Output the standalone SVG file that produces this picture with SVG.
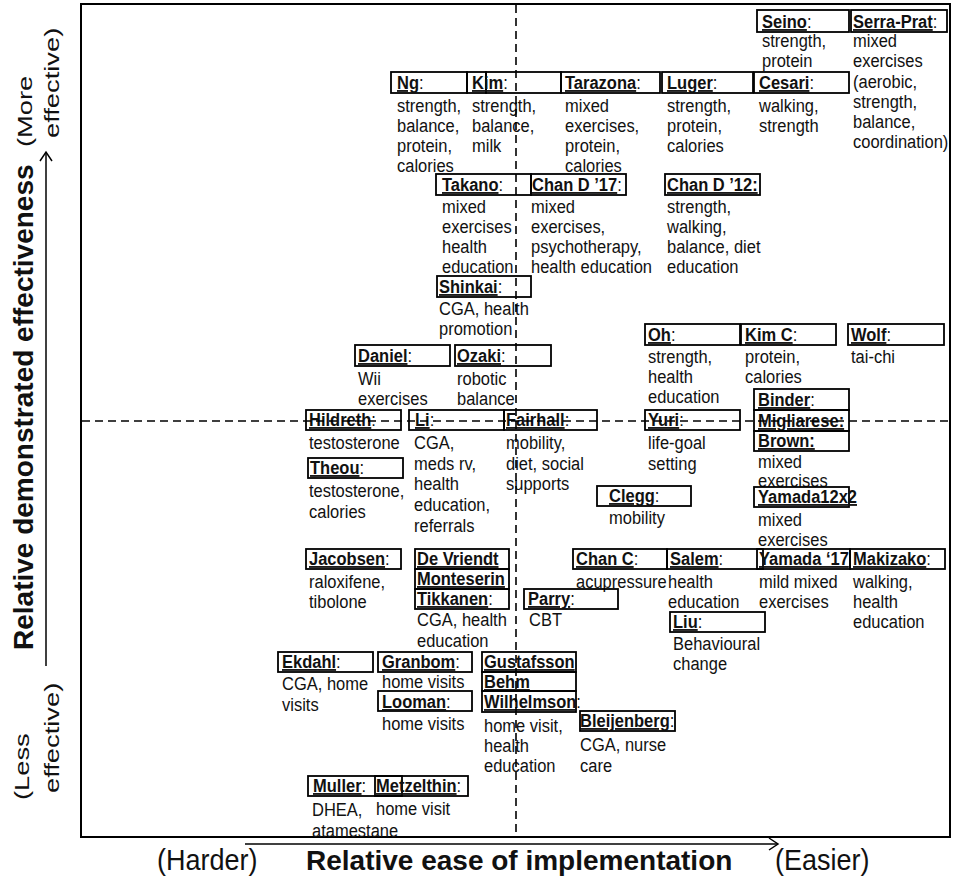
<svg xmlns="http://www.w3.org/2000/svg" width="954" height="881" viewBox="0 0 954 881">
<style>
text{font-family:"Liberation Sans",Arial,sans-serif;fill:#111}
.nm{font-size:16.5px}
.d{font-size:16.5px}
.b{font-weight:bold;text-decoration:underline}
.bx{fill:none;stroke:#000;stroke-width:1.8}
.ax{font-size:27px}
.axv{font-size:19.5px}
.axb{font-size:28px;font-weight:bold}
.dash{fill:none;stroke:#000;stroke-width:1.6;stroke-dasharray:8 5}
.ln{fill:none;stroke:#000;stroke-width:1.5}
</style>
<rect x="81" y="4" width="869" height="833" fill="#fff" stroke="#000" stroke-width="2"/>

<g id="n-seino"><rect class="bx" x="757" y="10" width="92" height="22"/><text class="nm" transform="translate(762,28) scale(1,1.1)"><tspan class="b">Seino</tspan>:</text><text class="d" transform="translate(762,47) scale(1,1.1)">strength,<tspan x="0" dy="18.45">protein</tspan></text></g>
<g id="n-serraprat"><rect class="bx" x="851" y="10" width="96" height="22"/><text class="nm" transform="translate(853,28) scale(1,1.1)"><tspan class="b">Serra-Prat</tspan>:</text><text class="d" transform="translate(853,47) scale(1,1.1)">mixed<tspan x="0" dy="18.45">exercises</tspan><tspan x="0" dy="18.45">(aerobic,</tspan><tspan x="0" dy="18.45">strength,</tspan><tspan x="0" dy="18.45">balance,</tspan><tspan x="0" dy="18.45">coordination)</tspan></text></g>
<g id="n-ng"><rect class="bx" x="391" y="72" width="76" height="21"/><text class="nm" transform="translate(397,89) scale(1,1.1)"><tspan class="b">Ng</tspan>:</text><text class="d" transform="translate(397,111.5) scale(1,1.1)">strength,<tspan x="0" dy="18.2">balance,</tspan><tspan x="0" dy="18.2">protein,</tspan><tspan x="0" dy="18.2">calories</tspan></text></g>
<g id="n-kim"><rect class="bx" x="467" y="72" width="19" height="21"/><rect class="bx" x="486" y="72" width="75" height="21"/><text class="nm" transform="translate(472,89) scale(1,1.1)"><tspan class="b">Kim</tspan>:</text><text class="d" transform="translate(472,111.5) scale(1,1.1)">strength,<tspan x="0" dy="18.2">balance,</tspan><tspan x="0" dy="18.2">milk</tspan></text></g>
<g id="n-tarazona"><rect class="bx" x="561" y="72" width="99" height="21"/><text class="nm" transform="translate(565,89) scale(1,1.1)"><tspan class="b">Tarazona</tspan>:</text><text class="d" transform="translate(565,111.5) scale(1,1.1)">mixed<tspan x="0" dy="18.2">exercises,</tspan><tspan x="0" dy="18.2">protein,</tspan><tspan x="0" dy="18.2">calories</tspan></text></g>
<g id="n-luger"><rect class="bx" x="662" y="72" width="91" height="21"/><text class="nm" transform="translate(667,89) scale(1,1.1)"><tspan class="b">Luger</tspan>:</text><text class="d" transform="translate(667,111.5) scale(1,1.1)">strength,<tspan x="0" dy="18.2">protein,</tspan><tspan x="0" dy="18.2">calories</tspan></text></g>
<g id="n-cesari"><rect class="bx" x="754" y="72" width="95" height="21"/><text class="nm" transform="translate(759,89) scale(1,1.1)"><tspan class="b">Cesari</tspan>:</text><text class="d" transform="translate(759,111.5) scale(1,1.1)">walking,<tspan x="0" dy="18.2">strength</tspan></text></g>
<g id="n-takano"><rect class="bx" x="436" y="174" width="95" height="21"/><text class="nm" transform="translate(442,191) scale(1,1.1)"><tspan class="b">Takano</tspan>:</text><text class="d" transform="translate(442,212.5) scale(1,1.1)">mixed<tspan x="0" dy="18.36">exercises</tspan><tspan x="0" dy="18.36">health</tspan><tspan x="0" dy="18.36">education</tspan></text></g>
<g id="n-chand17"><rect class="bx" x="531" y="174" width="95" height="21"/><text class="nm" transform="translate(532,191) scale(1,1.1)"><tspan class="b">Chan D ’17</tspan>:</text><text class="d" transform="translate(531,212.5) scale(1,1.1)">mixed<tspan x="0" dy="18.36">exercises,</tspan><tspan x="0" dy="18.36">psychotherapy,</tspan><tspan x="0" dy="18.36">health education</tspan></text></g>
<g id="n-chand12"><rect class="bx" x="665" y="174" width="95" height="21"/><text class="nm" transform="translate(667,191) scale(1,1.1)"><tspan class="b">Chan D ’12:</tspan></text><text class="d" transform="translate(667,212.5) scale(1,1.1)">strength,<tspan x="0" dy="18.36">walking,</tspan><tspan x="0" dy="18.36">balance, diet</tspan><tspan x="0" dy="18.36">education</tspan></text></g>
<g id="n-shinkai"><rect class="bx" x="437" y="276" width="94" height="21"/><text class="nm" transform="translate(439,293) scale(1,1.1)"><tspan class="b">Shinkai</tspan>:</text><text class="d" transform="translate(439,315) scale(1,1.1)">CGA, health<tspan x="0" dy="18.36">promotion</tspan></text></g>
<g id="n-oh"><rect class="bx" x="645" y="324" width="95" height="21"/><text class="nm" transform="translate(648,341) scale(1,1.1)"><tspan class="b">Oh</tspan>:</text><text class="d" transform="translate(648,363) scale(1,1.1)">strength,<tspan x="0" dy="18.36">health</tspan><tspan x="0" dy="18.36">education</tspan></text></g>
<g id="n-kimc"><rect class="bx" x="741" y="324" width="95" height="21"/><text class="nm" transform="translate(745,341) scale(1,1.1)"><tspan class="b">Kim C</tspan>:</text><text class="d" transform="translate(745,363) scale(1,1.1)">protein,<tspan x="0" dy="18.36">calories</tspan></text></g>
<g id="n-wolf"><rect class="bx" x="848" y="324" width="96" height="21"/><text class="nm" transform="translate(851,341) scale(1,1.1)"><tspan class="b">Wolf</tspan>:</text><text class="d" transform="translate(851,363) scale(1,1.1)">tai-chi</text></g>
<g id="n-daniel"><rect class="bx" x="355" y="345" width="95" height="21"/><text class="nm" transform="translate(358,362) scale(1,1.1)"><tspan class="b">Daniel</tspan>:</text><text class="d" transform="translate(358,385) scale(1,1.1)">Wii<tspan x="0" dy="18.2">exercises</tspan></text></g>
<g id="n-ozaki"><rect class="bx" x="455" y="345" width="96" height="21"/><text class="nm" transform="translate(457,362) scale(1,1.1)"><tspan class="b">Ozaki</tspan>:</text><text class="d" transform="translate(457,385) scale(1,1.1)">robotic<tspan x="0" dy="18.2">balance</tspan></text></g>
<g id="n-binder"><rect class="bx" x="754" y="389" width="95" height="21"/><text class="nm" transform="translate(758,406) scale(1,1.1)"><tspan class="b">Binder</tspan>:</text></g>
<g id="n-migliarese"><rect class="bx" x="754" y="410" width="95" height="21"/><text class="nm" transform="translate(758,427) scale(1,1.1)"><tspan class="b">Migliarese:</tspan></text></g>
<g id="n-brown"><rect class="bx" x="754" y="431" width="95" height="20"/><text class="nm" transform="translate(758,447) scale(1,1.1)"><tspan class="b">Brown:</tspan></text><text class="d" transform="translate(758,468) scale(1,1.1)">mixed<tspan x="0" dy="17.2">exercises</tspan></text></g>
<g id="n-hildreth"><rect class="bx" x="306" y="410" width="95" height="20"/><text class="nm" transform="translate(309,426) scale(1,1.1)"><tspan class="b">Hildreth</tspan>:</text><text class="d" transform="translate(309,449) scale(1,1.1)">testosterone</text></g>
<g id="n-li"><rect class="bx" x="409" y="410" width="95" height="20"/><text class="nm" transform="translate(415,426) scale(1,1.1)"><tspan class="b">Li</tspan>:</text><text class="d" transform="translate(414,449) scale(1,1.1)">CGA,<tspan x="0" dy="18.8">meds rv,</tspan><tspan x="0" dy="18.8">health</tspan><tspan x="0" dy="18.8">education,</tspan><tspan x="0" dy="18.8">referrals</tspan></text></g>
<g id="n-fairhall"><rect class="bx" x="504" y="410" width="93" height="20"/><text class="nm" transform="translate(506,426) scale(1,1.1)"><tspan class="b">Fairhall</tspan>:</text><text class="d" transform="translate(506,449) scale(1,1.1)">mobility,<tspan x="0" dy="18.8">diet, social</tspan><tspan x="0" dy="18.8">supports</tspan></text></g>
<g id="n-yuri"><rect class="bx" x="645" y="410" width="95" height="20"/><text class="nm" transform="translate(648,426) scale(1,1.1)"><tspan class="b">Yuri</tspan>:</text><text class="d" transform="translate(648,449) scale(1,1.1)">life-goal<tspan x="0" dy="18.8">setting</tspan></text></g>
<g id="n-theou"><rect class="bx" x="308" y="458" width="95" height="20"/><text class="nm" transform="translate(310,474) scale(1,1.1)"><tspan class="b">Theou</tspan>:</text><text class="d" transform="translate(309,497) scale(1,1.1)">testosterone,<tspan x="0" dy="18.8">calories</tspan></text></g>
<g id="n-clegg"><rect class="bx" x="597" y="486" width="94" height="20"/><text class="nm" transform="translate(609,502) scale(1,1.1)"><tspan class="b">Clegg</tspan>:</text><text class="d" transform="translate(609,524) scale(1,1.1)">mobility</text></g>
<g id="n-yamada12x2"><rect class="bx" x="754" y="487" width="95" height="20"/><text class="nm" transform="translate(758,503) scale(1,1.1)"><tspan class="b">Yamada12x2</tspan></text><text class="d" transform="translate(758,525.5) scale(1,1.1)">mixed<tspan x="0" dy="18.2">exercises</tspan></text></g>
<g id="n-jacobsen"><rect class="bx" x="306" y="549" width="95" height="20"/><text class="nm" transform="translate(309,565) scale(1,1.1)"><tspan class="b">Jacobsen</tspan>:</text><text class="d" transform="translate(309,588) scale(1,1.1)">raloxifene,<tspan x="0" dy="18.45">tibolone</tspan></text></g>
<g id="n-devriendt"><rect class="bx" x="415" y="549" width="94" height="20"/><text class="nm" transform="translate(417,565) scale(1,1.1)"><tspan class="b">De Vriendt</tspan></text></g>
<g id="n-monteserin"><rect class="bx" x="415" y="569" width="94" height="20"/><text class="nm" transform="translate(417,585) scale(1,1.1)"><tspan class="b">Monteserin</tspan></text></g>
<g id="n-tikkanen"><rect class="bx" x="415" y="589" width="94" height="20"/><text class="nm" transform="translate(417,605) scale(1,1.1)"><tspan class="b">Tikkanen</tspan>:</text><text class="d" transform="translate(417,626) scale(1,1.1)">CGA, health<tspan x="0" dy="19.1">education</tspan></text></g>
<g id="n-chanc"><rect class="bx" x="573" y="549" width="94" height="20"/><text class="nm" transform="translate(576,565) scale(1,1.1)"><tspan class="b">Chan C</tspan>:</text><text class="d" transform="translate(576,588) scale(1,1.1)">acupressure</text></g>
<g id="n-salem"><rect class="bx" x="667" y="549" width="96" height="20"/><text class="nm" transform="translate(670,565) scale(1,1.1)"><tspan class="b">Salem</tspan>:</text><text class="d" transform="translate(668,588) scale(1,1.1)">health<tspan x="0" dy="18.2">education</tspan></text></g>
<g id="n-yamada17"><rect class="bx" x="757" y="549" width="93" height="20"/><text class="nm" transform="translate(759,565) scale(1,1.1)"><tspan class="b">Yamada ‘17</tspan></text><text class="d" transform="translate(759,588) scale(1,1.1)">mild mixed<tspan x="0" dy="18.2">exercises</tspan></text></g>
<g id="n-makizako"><rect class="bx" x="850" y="549" width="95" height="20"/><text class="nm" transform="translate(853,565) scale(1,1.1)"><tspan class="b">Makizako</tspan>:</text><text class="d" transform="translate(853,588) scale(1,1.1)">walking,<tspan x="0" dy="18.2">health</tspan><tspan x="0" dy="18.2">education</tspan></text></g>
<g id="n-parry"><rect class="bx" x="524" y="589" width="94" height="20"/><text class="nm" transform="translate(528,605) scale(1,1.1)"><tspan class="b">Parry</tspan>:</text><text class="d" transform="translate(529,626) scale(1,1.1)">CBT</text></g>
<g id="n-liu"><rect class="bx" x="670" y="612" width="95" height="20"/><text class="nm" transform="translate(673,628) scale(1,1.1)"><tspan class="b">Liu</tspan>:</text><text class="d" transform="translate(673,650) scale(1,1.1)">Behavioural<tspan x="0" dy="18.45">change</tspan></text></g>
<g id="n-ekdahl"><rect class="bx" x="278" y="652" width="95" height="20"/><text class="nm" transform="translate(282,668) scale(1,1.1)"><tspan class="b">Ekdahl</tspan>:</text><text class="d" transform="translate(282,690) scale(1,1.1)">CGA, home<tspan x="0" dy="19.1">visits</tspan></text></g>
<g id="n-granbom"><rect class="bx" x="378" y="652" width="94" height="20"/><text class="nm" transform="translate(382,668) scale(1,1.1)"><tspan class="b">Granbom</tspan>:</text><text class="d" transform="translate(382,688) scale(1,1.1)">home visits</text></g>
<g id="n-looman"><rect class="bx" x="378" y="691" width="94" height="20"/><text class="nm" transform="translate(382,708) scale(1,1.1)"><tspan class="b">Looman</tspan>:</text><text class="d" transform="translate(382,730) scale(1,1.1)">home visits</text></g>
<g id="n-gustafsson"><rect class="bx" x="482" y="652" width="94" height="20"/><text class="nm" transform="translate(484,668) scale(1,1.1)"><tspan class="b">Gustafsson</tspan></text></g>
<g id="n-behm"><rect class="bx" x="482" y="672" width="94" height="19"/><text class="nm" transform="translate(484,688) scale(1,1.1)"><tspan class="b">Behm</tspan></text></g>
<g id="n-wilhelmson"><rect class="bx" x="482" y="691" width="94" height="21"/><text class="nm" transform="translate(484,708) scale(1,1.1)"><tspan class="b">Wilhelmson</tspan>:</text><text class="d" transform="translate(484,732) scale(1,1.1)">home visit,<tspan x="0" dy="18.2">health</tspan><tspan x="0" dy="18.2">education</tspan></text></g>
<g id="n-bleijenberg"><rect class="bx" x="580" y="711" width="95" height="20"/><text class="nm" transform="translate(580,727) scale(1,1.1)"><tspan class="b">Bleijenberg</tspan>:</text><text class="d" transform="translate(580,751) scale(1,1.1)">CGA, nurse<tspan x="0" dy="19.1">care</tspan></text></g>
<g id="n-muller"><rect class="bx" x="308" y="776" width="94" height="20"/><text class="nm" transform="translate(313,792) scale(1,1.1)"><tspan class="b">Muller</tspan>:</text><text class="d" transform="translate(312,816) scale(1,1.1)">DHEA,<tspan x="0" dy="19.1">atamestane</tspan></text></g>
<g id="n-metzelthin"><rect class="bx" x="375" y="776" width="93" height="20"/><text class="nm" transform="translate(376,792) scale(1,1.1)"><tspan class="b">Metzelthin</tspan>:</text><text class="d" transform="translate(376,815) scale(1,1.1)">home visit</text></g>

<g id="connectors">
<line class="dash" x1="516" y1="5" x2="516" y2="836"/>
<line class="dash" x1="82" y1="421" x2="949" y2="421"/>
<line class="ln" x1="245" y1="844" x2="777" y2="844"/>
<polyline class="ln" points="769,838 778,844 769,850"/>
<line class="ln" x1="46" y1="666" x2="46" y2="153"/>
<polyline class="ln" points="40,161 46,152 52,161"/>
</g>

<g id="axis-labels">
<text class="ax" transform="translate(157,870) scale(1,1.08)">(Harder)</text>
<text class="axb" x="306" y="870">Relative ease of implementation</text>
<text class="ax" transform="translate(775,870) scale(1,1.08)">(Easier)</text>
<text class="axb" transform="translate(33,650) rotate(-90)">Relative demonstrated effectiveness</text>
<text class="axv" transform="translate(32,147) rotate(-90) scale(1.4,1)">(More</text>
<text class="axv" transform="translate(59,138) rotate(-90) scale(1.4,1)">effective)</text>
<text class="axv" transform="translate(29,800) rotate(-90) scale(1.4,1)">(Less</text>
<text class="axv" transform="translate(59,793) rotate(-90) scale(1.4,1)">effective)</text>
</g>
</svg>
